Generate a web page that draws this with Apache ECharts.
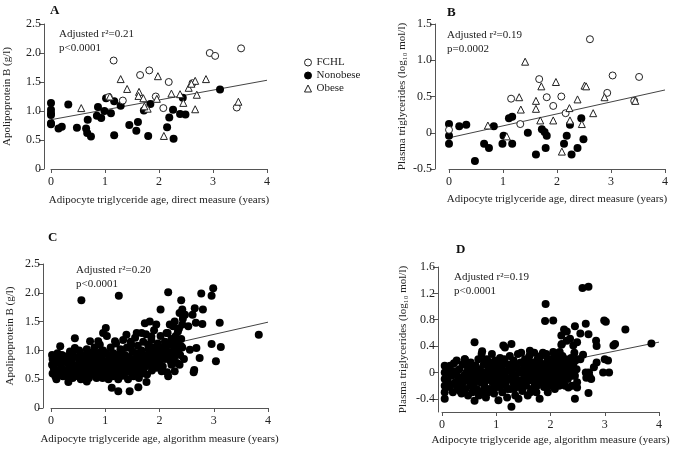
<!DOCTYPE html>
<html><head><meta charset="utf-8">
<script src="https://cdn.jsdelivr.net/npm/echarts@6/dist/echarts.min.js"></script>
<style>html,body{margin:0;padding:0;background:#fff}#c{width:681px;height:450px}</style>
</head><body><div id="c"></div>
<script>
// ---------- Panel A: Apolipoprotein B vs direct measure ----------
const aFCHL = [[1.16,1.87],[1.65,1.62],[1.82,1.70],[2.18,1.50],[1.94,1.25],[1.33,1.18],[2.08,1.05],[2.62,1.48],[2.94,2.0],[3.04,1.95],[3.52,2.08],[3.44,1.06],[1.07,1.24]];
const aNonobese = [[0,1.14],[0,1.02],[0,0.96],[0,0.93],[0,0.79],[0,0.77],[0.14,0.70],[0.2,0.73],[0.32,1.11],[0.48,0.71],[0.65,0.70],[0.67,0.62],[0.74,0.56],[0.68,0.85],[0.87,1.07],[0.85,0.92],[0.93,0.88],[0.99,1.0],[1.02,1.22],[1.11,0.96],[1.17,1.17],[1.17,0.58],[1.29,1.09],[1.45,0.76],[1.58,0.66],[1.61,0.81],[1.72,1.01],[1.80,0.57],[1.84,1.12],[2.15,0.72],[2.19,0.89],[2.26,1.02],[2.27,0.52],[2.39,0.95],[2.49,0.94],[2.44,1.23],[3.13,1.37]];
const aObese = [[1.29,1.55],[1.41,1.38],[1.63,1.33],[1.62,1.26],[1.71,1.22],[1.98,1.60],[2.23,1.30],[2.39,1.29],[2.45,1.14],[2.55,1.40],[2.67,1.52],[2.70,1.28],[2.87,1.55],[2.67,1.03],[3.47,1.16],[2.09,0.57],[1.79,1.04],[1.73,1.08],[0.56,1.05],[1.09,1.25],[1.96,1.21],[2.6,1.47]];
const aLine = [[0,0.85],[4,1.53]];

// ---------- Panel B: Plasma triglycerides vs direct measure ----------
const bFCHL = [[2.61,1.29],[1.67,0.74],[1.81,0.49],[2.08,0.50],[1.93,0.37],[1.15,0.47],[1.32,0.12],[2.16,0.27],[3.03,0.79],[3.52,0.77],[2.93,0.55],[3.43,0.44],[0,0.04]];
const bNonobese = [[0,0.12],[0,-0.04],[0,-0.15],[0.19,0.09],[0.32,0.11],[0.48,-0.39],[0.65,-0.15],[0.74,-0.21],[0.83,0.09],[0.99,-0.15],[1.01,-0.04],[1.11,0.20],[1.17,0.22],[1.17,-0.15],[1.46,0.0],[1.61,-0.30],[1.72,0.05],[1.77,0.01],[1.81,-0.04],[1.79,-0.21],[2.13,-0.15],[2.18,-0.04],[2.24,0.11],[2.27,-0.30],[2.38,-0.21],[2.45,0.20],[2.49,-0.09]];
const bObese = [[1.41,0.98],[1.30,0.49],[1.33,0.32],[1.61,0.44],[1.61,0.33],[1.71,0.64],[1.69,0.17],[1.98,0.70],[1.93,0.17],[2.23,0.34],[2.24,0.17],[2.38,0.46],[2.46,0.12],[2.51,0.65],[2.54,0.64],[2.67,0.27],[2.88,0.49],[3.45,0.44],[2.09,-0.26],[0.72,0.10],[1.07,-0.05]];
const bLine = [[0,-0.07],[4,0.59]];

// ---------- Panel C: Apolipoprotein B vs algorithm measure ----------
const cPoints = [
[0.02,0.92],[0.03,0.85],[0.02,0.75],[0.05,0.70],[0.03,0.60],[0.08,0.55],[0.1,0.5],[0.06,0.82],[0.17,1.07],[0.13,0.88],[0.23,0.81],[0.29,0.90],[0.35,0.98],[0.32,0.45],[0.38,0.64],[0.44,1.04],[0.44,1.21],[0.53,0.78],[0.50,0.55],[0.56,1.87],[0.58,0.64],[0.66,0.46],[0.67,0.98],[0.72,1.16],[0.75,0.69],[0.81,0.87],[0.84,0.52],[0.87,1.16],[0.90,0.75],[0.93,0.98],[0.96,1.30],[1.01,1.39],[1.02,0.55],[1.06,0.69],[1.12,0.35],[1.15,0.87],[1.18,1.16],[1.24,0.29],[1.25,1.95],[1.27,0.64],[1.30,0.98],[1.39,1.27],[1.42,0.75],[1.45,0.29],[1.48,1.10],[1.52,0.55],[1.58,1.30],[1.61,0.36],[1.64,0.92],[1.67,1.30],[1.70,0.64],[1.73,1.47],[1.76,0.45],[1.79,1.10],[1.82,1.50],[1.85,1.24],[1.88,0.87],[1.94,1.45],[1.98,1.01],[2.02,1.71],[2.04,0.64],[2.07,0.98],[2.13,1.30],[2.16,2.01],[2.16,0.55],[2.19,1.45],[2.22,0.75],[2.25,1.16],[2.28,1.50],[2.28,0.64],[2.31,0.98],[2.34,1.33],[2.37,1.65],[2.40,1.87],[2.42,1.71],[2.47,1.62],[2.42,1.45],[2.40,1.07],[2.37,0.75],[2.53,1.42],[2.56,1.01],[2.61,1.62],[2.65,1.73],[2.64,0.66],[2.63,0.62],[2.67,1.48],[2.68,1.04],[2.74,0.87],[2.77,1.99],[2.79,1.46],[2.80,1.71],[2.96,1.95],[2.99,2.08],[2.96,1.11],[3.04,0.81],[3.11,1.48],[3.13,1.06],[3.83,1.27],
[0.05,0.72],[0.08,0.65],[0.1,0.80],[0.12,0.62],[0.15,0.58],[0.18,0.75],[0.2,0.68],[0.22,0.55],[0.25,0.85],[0.27,0.62],[0.3,0.78],[0.3,0.55],[0.12,0.95],[0.2,0.92],
[0.33,0.70],[0.35,0.60],[0.38,0.85],[0.4,0.52],[0.4,0.95],[0.42,0.75],[0.45,0.65],[0.46,0.58],[0.48,0.88],[0.5,0.72],[0.52,0.62],[0.52,1.0],[0.55,0.80],[0.55,0.50],[0.58,0.68],[0.58,0.92],[0.6,0.56],
[0.62,0.75],[0.63,0.85],[0.65,0.60],[0.66,1.02],[0.68,0.70],[0.7,0.52],[0.7,0.90],[0.72,0.65],[0.74,0.80],[0.75,0.95],[0.77,0.58],[0.78,0.72],[0.8,1.05],[0.8,0.62],[0.82,0.85],[0.84,0.70],[0.85,0.55],[0.86,0.95],[0.88,0.78],[0.9,0.62],[0.9,1.1],
[0.92,0.72],[0.94,0.88],[0.95,0.52],[0.96,1.0],[0.98,0.66],[1.0,0.80],[1.0,0.58],[1.02,0.95],[1.03,1.25],[1.05,0.72],[1.06,0.50],[1.08,0.88],[1.1,0.62],[1.1,1.05],[1.12,0.78],[1.14,0.55],[1.15,0.95],[1.16,0.68],[1.18,0.85],[1.2,0.60],[1.2,1.12],
[1.22,0.75],[1.24,0.50],[1.25,0.92],[1.27,0.66],[1.28,1.02],[1.3,0.82],[1.32,0.56],[1.33,1.18],[1.35,0.72],[1.36,0.92],[1.38,0.62],[1.4,0.80],[1.4,1.05],[1.42,0.50],[1.44,0.88],[1.45,0.68],[1.47,1.15],[1.48,0.78],[1.5,0.58],[1.5,0.98],
[1.52,0.85],[1.54,0.70],[1.55,1.22],[1.57,0.62],[1.58,0.95],[1.6,0.78],[1.6,1.08],[1.62,0.52],[1.64,0.88],[1.65,0.70],[1.67,1.0],[1.68,0.60],[1.7,0.82],[1.7,1.15],[1.72,0.92],[1.74,0.72],[1.75,1.28],[1.77,0.58],[1.78,0.85],[1.8,1.02],
[1.82,0.75],[1.83,0.95],[1.85,1.18],[1.86,0.65],[1.88,1.05],[1.9,0.82],[1.9,1.35],[1.92,0.92],[1.94,0.70],[1.95,1.0],[1.97,1.12],[1.98,0.80],[2.0,0.95],[2.02,1.25],[2.03,0.88],[2.05,1.05],[2.06,0.72],[2.08,0.98],[2.1,1.15],[2.1,0.85],
[2.12,1.02],[2.14,0.62],[2.15,1.3],[2.17,0.92],[2.18,1.1],[2.2,0.82],[2.22,1.2],[2.24,0.98],[2.25,1.42],[2.27,0.88],[2.28,1.08],[2.3,1.25],[2.32,0.78],[2.33,1.15],[2.35,1.0],[2.36,1.38],[2.38,0.92],[2.4,1.2],[2.42,1.05],[2.43,1.55],[2.45,0.85],
[0.36,0.80],[0.47,0.68],[0.57,0.74],[0.61,0.64],[0.69,0.78],[0.76,0.66],[0.83,0.77],[0.89,0.68],[0.97,0.76],[1.04,0.63],[1.09,0.80],[1.13,0.70],[1.19,0.66],[1.23,0.82],[1.29,0.74],[1.34,0.84],[1.39,0.70],[1.46,0.82],[1.53,0.76],[1.59,0.66],[1.63,0.80],[1.69,0.74],[1.73,0.82],[1.81,0.88],[1.87,0.78],[1.93,0.86],[2.01,0.82],[2.09,0.90],[2.19,0.95],[2.29,0.92]
];
const cLine = [[0,0.64],[4,1.49]];

// ---------- Panel D: Plasma triglycerides vs algorithm measure ----------
const dPoints = [
[0.05,0.1],[0.05,0.0],[0.05,-0.1],[0.05,-0.2],[0.05,-0.3],[0.05,-0.4],[0.08,0.08],[0.1,-0.12],[0.12,0.05],[0.14,-0.22],[0.15,0.1],[0.18,-0.05],[0.2,-0.3],[0.22,0.14],[0.24,0.02],[0.25,-0.15],[0.27,0.18],[0.28,-0.25],[0.3,-0.08],
[0.32,0.05],[0.34,-0.18],[0.36,-0.32],[0.38,0.12],[0.4,-0.05],[0.42,0.2],[0.43,-0.25],[0.45,0.0],[0.47,-0.12],[0.48,-0.35],[0.5,0.08],[0.52,-0.2],[0.53,0.15],[0.55,-0.08],[0.56,-0.3],[0.58,0.02],[0.6,-0.15],[0.6,0.46],[0.6,-0.43],
[0.62,0.1],[0.64,-0.25],[0.65,-0.05],[0.67,0.2],[0.68,-0.35],[0.7,0.05],[0.71,-0.15],[0.73,0.28],[0.74,-0.08],[0.75,-0.28],[0.77,0.12],[0.78,-0.2],[0.8,0.0],[0.81,-0.38],[0.83,0.2],[0.84,-0.1],[0.86,0.06],[0.87,-0.25],[0.89,0.15],[0.9,-0.05],
[0.92,0.28],[0.93,-0.15],[0.95,0.05],[0.96,-0.32],[0.98,0.18],[1.0,-0.08],[1.01,0.1],[1.03,-0.22],[1.04,-0.42],[1.05,0.0],[1.07,0.22],[1.08,-0.12],[1.1,0.08],[1.11,-0.3],[1.13,0.15],[1.14,-0.05],[1.16,0.38],[1.17,-0.18],[1.19,0.02],[1.2,-0.38],
[1.22,0.12],[1.23,-0.1],[1.25,0.25],[1.26,-0.25],[1.28,0.43],[1.28,-0.52],[1.29,0.0],[1.31,-0.15],[1.32,0.18],[1.34,-0.05],[1.35,-0.35],[1.37,0.08],[1.38,-0.2],[1.4,0.28],[1.41,-0.4],[1.42,0.0],[1.44,-0.12],[1.45,0.15],[1.46,0.3],[1.48,-0.28],[1.5,0.05],
[1.52,-0.08],[1.53,0.2],[1.55,-0.2],[1.56,0.1],[1.58,-0.35],[1.59,0.0],[1.61,0.25],[1.62,-0.12],[1.62,0.33],[1.64,0.08],[1.65,-0.25],[1.67,0.15],[1.68,-0.05],[1.7,0.3],[1.71,-0.18],[1.73,0.05],[1.74,-0.3],[1.76,0.2],[1.77,-0.08],[1.79,0.12],[1.8,-0.4],
[1.82,0.25],[1.83,-0.15],[1.85,0.02],[1.86,0.3],[1.88,-0.22],[1.89,0.1],[1.91,-0.05],[1.92,0.28],[1.94,0.15],[1.95,-0.3],[1.97,0.05],[1.98,-0.12],[2.0,0.2],[2.01,0.0],[2.03,-0.2],[2.04,0.12],[2.06,-0.08],[2.07,0.25],[2.09,0.05],[2.1,-0.15],
[2.12,0.1],[2.14,-0.05],[2.15,0.3],[2.17,0.18],[2.18,-0.12],[2.2,0.05],[2.22,0.25],[2.23,-0.02],[2.25,0.12],[2.27,-0.2],[2.28,0.2],[2.3,0.05],[2.32,-0.1],[2.34,0.15],[2.36,0.02],[2.38,0.22],[2.4,-0.05],[2.42,0.12],[2.44,0.3],[2.46,0.18],[2.48,0.05],[2.5,0.2],
[0.1,0.0],[0.18,-0.18],[0.26,-0.02],[0.33,-0.28],[0.39,-0.15],[0.46,0.1],[0.51,-0.05],[0.57,-0.22],[0.63,0.02],[0.69,-0.1],[0.72,-0.3],[0.76,0.0],[0.79,0.18],[0.82,-0.12],[0.85,-0.3],[0.88,-0.02],[0.91,0.1],[0.94,-0.25],[0.97,-0.05],[0.99,0.05],[1.02,-0.15],[1.06,0.12],[1.09,-0.2],[1.12,-0.02],[1.15,0.2],[1.18,-0.1],[1.21,-0.25],[1.24,0.05],[1.27,-0.08],[1.3,0.1],[1.33,-0.25],[1.36,-0.1],[1.39,0.12],[1.43,-0.22],[1.47,0.0],[1.51,-0.15],[1.54,0.12],[1.57,-0.05],[1.6,0.15],[1.63,-0.3],[1.66,0.0],[1.69,0.1],[1.72,-0.1],[1.75,-0.2],[1.78,0.02],[1.81,0.15],[1.84,-0.05],[1.87,0.12],[1.9,-0.12],[1.93,0.0],[1.96,-0.2],[1.99,0.1],[2.02,-0.08],[2.05,0.05],[2.08,-0.25],[2.11,0.0],[2.16,-0.2],[2.19,0.15],[2.24,-0.1],[2.29,0.1],[2.35,-0.05],[2.39,0.1],[2.45,-0.05]
,
[1.91,1.04],[1.90,0.78],[2.05,0.79],[2.59,1.28],[2.70,1.30],[2.65,0.74],[2.70,0.58],[2.55,0.59],[2.99,0.79],[3.02,0.77],[3.38,0.65],[3.86,0.44],[3.16,0.41],[3.19,0.43],[3.00,0.20],[3.06,0.18],[2.97,0],[3.08,0],[2.85,0.15],[2.80,0.08],[2.84,0.48],[2.85,0.40],[2.70,-0.31],[2.45,-0.40],[2.66,-0.08],[2.71,0],[2.65,0],[2.49,-0.15],[2.49,-0.23],[2.45,0.70],[2.49,0.46],[2.60,0.27],[2.25,0.65],[2.30,0.62],[2.20,0.56],[2.36,0.51],[2.42,0.41],[2.17,0.31],[1.13,0.41],[0.74,0.32],[0.42,0.20],[2.2,0.42],[2.12,0.2],[2.55,0.2],[2.4,-0.2],[1.95,0.2],[2.3,0.48],[2.05,0.31],[2.21,0.43],[2.72,-0.06],[2.75,-0.10],[2.33,-0.23]
];
const dLine = [[0,-0.21],[4,0.46]];

// ---------- labels ----------
const xNames = ['Adipocyte triglyceride age, direct measure (years)','Adipocyte triglyceride age, direct measure (years)','Adipocyte triglyceride age, algorithm measure (years)','Adipocyte triglyceride age, algorithm measure (years)'];
const yNames = ['Apolipoprotein B (g/l)','Plasma triglycerides (log\u2081\u2080 mol/l)','Apolipoprotein B (g/l)','Plasma triglycerides (log\u2081\u2080 mol/l)'];
const dYTicks = [-0.4,0,0.4,0.8,1.2,1.6];
const panelLetters = ['A','B','C','D'];
const statsText = [['Adjusted r\u00b2=0.21','p<0.0001'],['Adjusted r\u00b2=0.19','p=0.0002'],['Adjusted r\u00b2=0.20','p<0.0001'],['Adjusted r\u00b2=0.19','p<0.0001']];
const legendNames = ['FCHL','Nonobese','Obese'];

const FONT = '"Liberation Serif","Times New Roman",serif';
const TXT = '#222';
const AX = '#555';
const fmt = v => (v === 0 ? '0' : v.toFixed(1));

const grids = [
  {left:51, top:24, width:216, height:145},
  {left:449, top:24, width:216, height:145},
  {left:51, top:264, width:217, height:144},
  {left:442, top:267, width:217, height:145}
];
const yCfg = [
  {min:0,max:2.5,interval:0.5,offset:7,nameGap:31},
  {min:-0.5,max:1.5,interval:0.5,offset:14,nameGap:27},
  {min:0,max:2.5,interval:0.5,offset:8,nameGap:27},
  {min:-0.6,max:1.6,offset:4,nameGap:29,custom:dYTicks}
];
const xGap = [26,25,26,23];

const xAxis = grids.map((g,i)=>({
  gridIndex:i, type:'value', min:0, max:4, interval:1,
  name:xNames[i], nameLocation:'middle', nameGap:xGap[i],
  nameTextStyle:{fontFamily:FONT,fontSize:11,color:TXT},
  axisLine:{show:true,onZero:false,lineStyle:{color:AX,width:1}},
  axisTick:{show:true,length:4,lineStyle:{color:AX}},
  axisLabel:{fontFamily:FONT,fontSize:12,color:TXT,margin:7},
  splitLine:{show:false}
}));
const yAxis = yCfg.map((c,i)=>{
  const ax = {
    gridIndex:i, type:'value', min:c.min, max:c.max, offset:c.offset,
    name:yNames[i], nameLocation:'middle', nameGap:c.nameGap, nameRotate:90,
    nameTextStyle:{fontFamily:FONT,fontSize:11,color:TXT},
    axisLine:{show:true,onZero:false,lineStyle:{color:AX,width:1}},
    axisTick:{show:true,length:5,lineStyle:{color:AX}},
    axisLabel:{fontFamily:FONT,fontSize:12,color:TXT,margin:3,formatter:fmt},
    splitLine:{show:false}
  };
  if (c.custom) {
    ax.axisTick.customValues = c.custom;
    ax.axisLabel.customValues = c.custom;
  } else {
    ax.interval = c.interval;
  }
  return ax;
});

const openStyle = {color:'#fff',borderColor:'#222',borderWidth:1,opacity:1};
const fillStyle = {color:'#000',borderColor:'#000',borderWidth:0,opacity:1};
const lineSeries = (data,i)=>({type:'line',xAxisIndex:i,yAxisIndex:i,data:data,symbol:'none',silent:true,z:1,
  lineStyle:{color:'#444',width:1},animation:false});

const series = [
  lineSeries(aLine,0),
  {name:'FCHL',type:'scatter',xAxisIndex:0,yAxisIndex:0,data:aFCHL,symbol:'circle',symbolSize:7,itemStyle:openStyle,z:3},
  {name:'Nonobese',type:'scatter',xAxisIndex:0,yAxisIndex:0,data:aNonobese,symbol:'circle',symbolSize:8,itemStyle:fillStyle,z:2},
  {name:'Obese',type:'scatter',xAxisIndex:0,yAxisIndex:0,data:aObese,symbol:'triangle',symbolSize:7,itemStyle:openStyle,z:3},
  lineSeries(bLine,1),
  {name:'FCHL',type:'scatter',xAxisIndex:1,yAxisIndex:1,data:bFCHL,symbol:'circle',symbolSize:7,itemStyle:openStyle,z:3},
  {name:'Nonobese',type:'scatter',xAxisIndex:1,yAxisIndex:1,data:bNonobese,symbol:'circle',symbolSize:8,itemStyle:fillStyle,z:2},
  {name:'Obese',type:'scatter',xAxisIndex:1,yAxisIndex:1,data:bObese,symbol:'triangle',symbolSize:7,itemStyle:openStyle,z:3},
  lineSeries(cLine,2),
  {type:'scatter',xAxisIndex:2,yAxisIndex:2,data:cPoints,symbol:'circle',symbolSize:8,itemStyle:fillStyle,z:2},
  lineSeries(dLine,3),
  {type:'scatter',xAxisIndex:3,yAxisIndex:3,data:dPoints,symbol:'circle',symbolSize:8,itemStyle:fillStyle,z:2}
];

const letterPos = [[50,4],[447,6],[48,231],[456,243]];
const statPos = [[59,27],[447,28],[76,263],[454,270]];
const graphic = [];
panelLetters.forEach((t,i)=>graphic.push({type:'text',left:letterPos[i][0],top:letterPos[i][1],
  style:{text:t,font:'bold 13px '+FONT,fill:'#111'}}));
statsText.forEach((t,i)=>graphic.push({type:'text',left:statPos[i][0],top:statPos[i][1],
  style:{text:t.join('\n'),font:'11px '+FONT,fill:TXT,lineHeight:14}}));

const chart = echarts.init(document.getElementById('c'),null,{renderer:'canvas'});
chart.setOption({
  animation:false,
  backgroundColor:'#fff',
  grid:grids,
  xAxis:xAxis,
  yAxis:yAxis,
  legend:{data:legendNames,orient:'vertical',left:299,top:52,itemWidth:7,itemHeight:7,itemGap:2,
    selectedMode:false,itemStyle:{borderWidth:1},textStyle:{fontFamily:FONT,fontSize:11,color:TXT}},
  graphic:graphic,
  series:series
});
</script></body></html>
